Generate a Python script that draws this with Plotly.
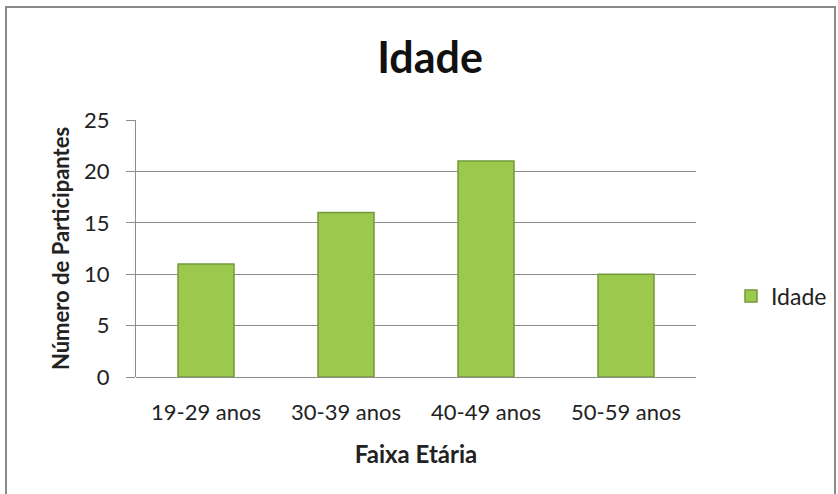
import plotly.graph_objects as go

categorias = ["19-29 anos", "30-39 anos", "40-49 anos", "50-59 anos"]
participantes = [11, 16, 21, 10]
y_ticks = [0, 5, 10, 15, 20, 25]

W, H = 838, 494
L, R, T, B = 136, 696, 120, 377
pw, ph = R - L, B - T

def px(x):
    return (x - L) / pw

def py(y):
    return (B - y) / ph

fig = go.Figure()
fig.add_trace(go.Bar(
    x=categorias, y=participantes, name="Idade", width=0.4,
    marker=dict(color="#9CC84E", line=dict(color="#74993A", width=1.5)),
))

fig.update_layout(
    width=W, height=H, autosize=False,
    margin=dict(l=L, r=W - R, t=T, b=H - B, pad=0),
    paper_bgcolor="white", plot_bgcolor="white",
    font=dict(family="Lato, Open Sans, sans-serif", color="#222", size=22),
    title=dict(text="<b>Idade</b>", x=430 / W, xanchor="center",
               y=1 - 58 / H, yanchor="middle",
               font=dict(size=43, color="#111")),
    showlegend=True,
    legend=dict(xref="container", yref="container",
                x=731 / W, y=1 - 296 / H, xanchor="left", yanchor="middle",
                itemwidth=30,
                font=dict(size=23, color="#222"), bgcolor="rgba(0,0,0,0)"),
    xaxis=dict(
        range=[-0.5, 3.5], showgrid=False, showline=False, ticks="",
        ticklabelstandoff=20,
        title=dict(text="<b>Faixa Etária</b>", font=dict(size=24), standoff=22),
        tickfont=dict(size=22),
    ),
    yaxis=dict(
        range=[0, 25], tickvals=y_ticks, showgrid=True, gridcolor="#8C8C8C",
        gridwidth=1, showline=True, linecolor="#8C8C8C", linewidth=1,
        ticks="outside", ticklen=9, tickcolor="#8C8C8C",
        zeroline=True, zerolinecolor="#8C8C8C", zerolinewidth=1,
        ticklabelstandoff=12, tickfont=dict(size=22),
        title=dict(text="<b>Número de Participantes</b>", font=dict(size=22), standoff=8),
    ),
    shapes=[dict(type="rect", xref="paper", yref="paper",
                 x0=px(6), x1=px(835), y0=py(520), y1=py(7),
                 line=dict(color="#8A8A8A", width=2), fillcolor="rgba(0,0,0,0)",
                 layer="below")],
)

fig.write_html("out.html", config={"displayModeBar": False},
               post_script="document.body.style.margin='0';")
